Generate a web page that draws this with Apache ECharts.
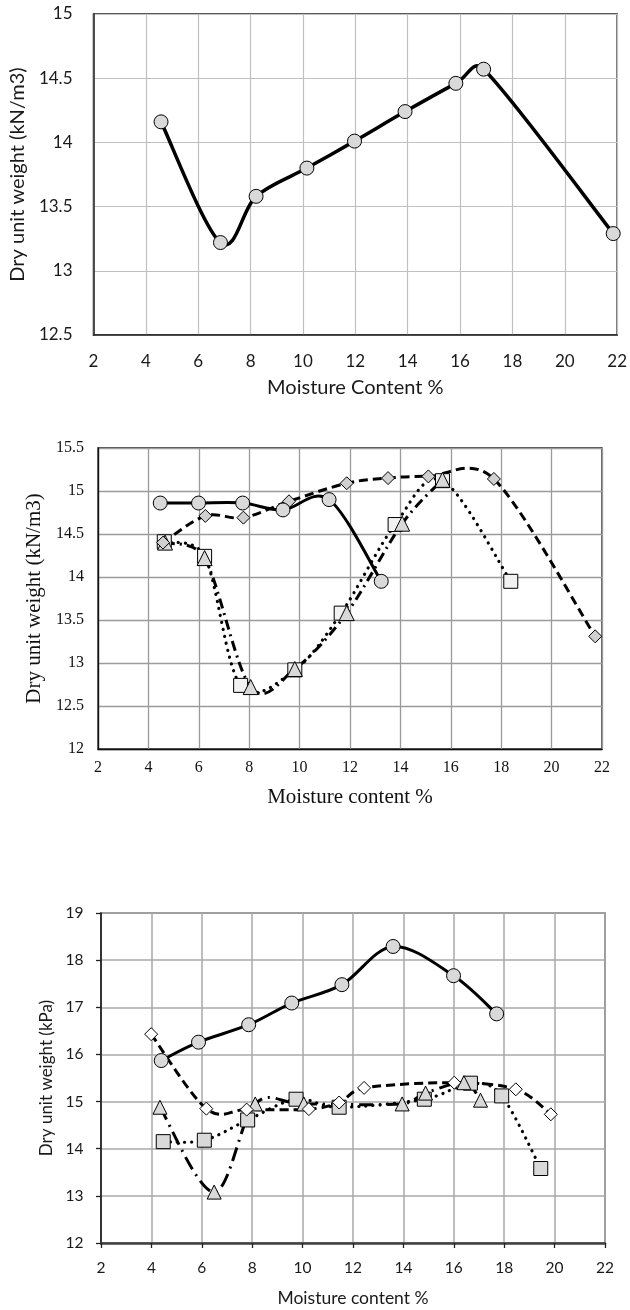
<!DOCTYPE html>
<html>
<head>
<meta charset="utf-8">
<script src="https://cdn.jsdelivr.net/npm/echarts@6/dist/echarts.min.js"></script>
<style>
html,body{margin:0;padding:0;background:#fff;}
#c{width:630px;height:1310px;}
</style>
</head>
<body>
<div id="c"></div>
<script>
// ---------- Data ----------
// Chart 1 (top)
const c1X = [4.58, 6.85, 8.21, 10.15, 11.97, 13.9, 15.84, 16.9, 21.85];
const c1Y = [14.16, 13.22, 13.58, 13.80, 14.01, 14.24, 14.46, 14.57, 13.29];
// Chart 2 (middle)
const c2CircleX = [4.47, 5.99, 7.74, 9.34, 11.17, 13.24];
const c2CircleY = [14.86, 14.86, 14.86, 14.78, 14.90, 13.95];
const c2DiamondX = [4.58, 6.26, 7.77, 9.58, 11.87, 13.51, 15.11, 17.71, 21.73];
const c2DiamondY = [14.40, 14.71, 14.69, 14.88, 15.09, 15.15, 15.17, 15.14, 13.31];
const c2SquareX = [4.63, 6.23, 7.66, 9.81, 11.65, 13.79, 15.67, 18.38];
const c2SquareY = [14.41, 14.24, 12.74, 12.92, 13.58, 14.61, 15.12, 13.95];
const c2TriX = [4.66, 6.23, 8.06, 9.81, 11.87, 14.07, 15.67];
const c2TriY = [14.40, 14.22, 12.72, 12.93, 13.58, 14.62, 15.13];
// Chart 3 (bottom)
const c3CircleX = [4.39, 5.87, 7.86, 9.57, 11.56, 13.59, 15.99, 17.7];
const c3CircleY = [15.87, 16.26, 16.63, 17.09, 17.48, 18.29, 17.67, 16.86];
const c3DiamondX = [3.99, 6.18, 7.78, 10.25, 11.45, 12.44, 16.02, 18.46, 19.85];
const c3DiamondY = [16.43, 14.85, 14.83, 14.84, 14.98, 15.29, 15.40, 15.26, 14.73];
const c3SquareX = [4.47, 6.1, 7.82, 9.74, 11.45, 14.83, 16.66, 17.9, 19.45];
const c3SquareY = [14.15, 14.18, 14.61, 15.05, 14.88, 15.05, 15.39, 15.12, 13.58];
const c3TriX = [4.34, 6.49, 8.12, 10.05, 13.95, 14.88, 16.4, 17.06];
const c3TriY = [14.88, 13.08, 14.95, 14.95, 14.95, 15.18, 15.40, 15.03];

// Tick settings: min, max, interval
const xTicks = [2, 22, 2];
const y1Ticks = [12.5, 15, 0.5];
const y2Ticks = [12, 15.5, 0.5];
const y3Ticks = [12, 19, 1];

// Titles
const xTitle1 = 'Moisture Content %';
const yTitle1 = 'Dry unit weight (kN/m3)';
const xTitle2 = 'Moisture content %';
const yTitle2 = 'Dry unit weight (kN/m3)';
const xTitle3 = 'Moisture content %';
const yTitle3 = 'Dry unit weight (kPa)';

// ---------- Build ----------
const pairs = (xs, ys) => xs.map((x, i) => [x, ys[i]]);
const SANS = 'Lato';
const SERIF = 'Liberation Serif';

// Spreadsheet-style smoothed curve (Catmull-Rom, tension 1/6, control arms
// limited relative to the segment length) positioned via api.coord.
function curve(idx, xs, ys, dash, width, cap) {
  return {
    type: 'custom', coordinateSystem: 'cartesian2d',
    xAxisIndex: idx, yAxisIndex: idx,
    data: pairs(xs, ys), encode: { x: 0, y: 1 },
    z: 2, silent: true, animation: false,
    renderItem: function (params, api) {
      if (params.dataIndex !== 0) return null;
      const p = xs.map((x, i) => api.coord([x, ys[i]]));
      const clampArm = (vx, vy, seg) => {
        const len = Math.hypot(vx, vy), lim = 0.5 * seg;
        if (len > lim && len > 0) { const s = lim / len; return [vx * s, vy * s]; }
        return [vx, vy];
      };
      let d = 'M' + p[0][0] + ',' + p[0][1];
      for (let i = 0; i < p.length - 1; i++) {
        const p0 = p[i - 1] || p[i], p1 = p[i], p2 = p[i + 1], p3 = p[i + 2] || p[i + 1];
        const seg = Math.hypot(p2[0] - p1[0], p2[1] - p1[1]);
        const a = clampArm((p2[0] - p0[0]) / 6, (p2[1] - p0[1]) / 6, seg);
        const b = clampArm((p3[0] - p1[0]) / 6, (p3[1] - p1[1]) / 6, seg);
        d += ' C' + (p1[0] + a[0]) + ',' + (p1[1] + a[1]) + ' ' + (p2[0] - b[0]) + ',' + (p2[1] - b[1]) + ' ' + p2[0] + ',' + p2[1];
      }
      return {
        type: 'path', shape: { pathData: d },
        style: { fill: 'none', stroke: '#000', lineWidth: width, lineDash: dash || null, lineCap: cap || 'butt', lineJoin: 'round' }
      };
    }
  };
}

function marks(idx, xs, ys, symbol, size, fill) {
  return {
    type: 'scatter', xAxisIndex: idx, yAxisIndex: idx,
    data: pairs(xs, ys), symbol: symbol, symbolSize: size, z: 3,
    itemStyle: { color: fill, borderColor: '#000', borderWidth: 1, opacity: 1 },
    emphasis: { disabled: true }, silent: true, animation: false
  };
}

const chart = echarts.init(document.getElementById('c'), null, { renderer: 'canvas' });
const option = {
  animation: false,
  grid: [
    { left: 88, top: 14, width: 530, height: 321, show: true, borderColor: '#262626', borderWidth: 1.5, backgroundColor: 'transparent' },
    { left: 98, top: 448, width: 504, height: 301, show: true, borderColor: '#111', borderWidth: 1.3, backgroundColor: 'transparent' },
    { left: 101, top: 913, width: 504, height: 330, show: true, borderColor: '#595959', borderWidth: 1.5, backgroundColor: 'transparent' }
  ],
  xAxis: [
    { gridIndex: 0, type: 'value', min: xTicks[0], max: xTicks[1], interval: xTicks[2],
      name: xTitle1, nameLocation: 'middle', nameGap: 43,
      nameTextStyle: { fontFamily: SANS, fontSize: 20, color: '#1a1a1a', lineHeight: 20 },
      axisLine: { show: true, lineStyle: { color: '#262626', width: 1.5 } },
      axisTick: { show: false },
      axisLabel: { fontFamily: SANS, fontSize: 17, color: '#1a1a1a', margin: 18, lineHeight: 17 },
      splitLine: { show: true, lineStyle: { color: '#c0c0c0', width: 1.2 } } },
    { gridIndex: 1, type: 'value', min: xTicks[0], max: xTicks[1], interval: xTicks[2],
      name: xTitle2, nameLocation: 'middle', nameGap: 38,
      nameTextStyle: { fontFamily: SERIF, fontSize: 21, color: '#111', lineHeight: 21 },
      axisLine: { show: true, lineStyle: { color: '#111', width: 1.3 } },
      axisTick: { show: false },
      axisLabel: { fontFamily: SERIF, fontSize: 16, color: '#111', margin: 11, lineHeight: 16 },
      splitLine: { show: true, lineStyle: { color: '#9a9a9a', width: 1.3 } } },
    { gridIndex: 2, type: 'value', min: xTicks[0], max: xTicks[1], interval: xTicks[2],
      name: xTitle3, nameLocation: 'middle', nameGap: 47,
      nameTextStyle: { fontFamily: SANS, fontSize: 17.5, color: '#1a1a1a', lineHeight: 17.5 },
      axisLine: { show: true, lineStyle: { color: '#404040', width: 2.5 } },
      axisTick: { show: true, length: 5, lineStyle: { color: '#222', width: 1.3 } },
      axisLabel: { fontFamily: SANS, fontSize: 15.5, color: '#1a1a1a', margin: 17, lineHeight: 15.5 },
      splitLine: { show: true, lineStyle: { color: '#a8a8a8', width: 1.5 } } }
  ],
  yAxis: [
    { gridIndex: 0, type: 'value', min: y1Ticks[0], max: y1Ticks[1], interval: y1Ticks[2],
      name: yTitle1, nameLocation: 'middle', nameGap: 57,
      nameTextStyle: { fontFamily: SANS, fontSize: 20, color: '#1a1a1a', lineHeight: 20 },
      axisLine: { show: true, lineStyle: { color: '#262626', width: 1.5 } },
      axisTick: { show: false },
      axisLabel: { fontFamily: SANS, fontSize: 17, color: '#1a1a1a', margin: 21 },
      splitLine: { show: true, lineStyle: { color: '#c0c0c0', width: 1.2 } } },
    { gridIndex: 1, type: 'value', min: y2Ticks[0], max: y2Ticks[1], interval: y2Ticks[2],
      name: yTitle2, nameLocation: 'middle', nameGap: 49,
      nameTextStyle: { fontFamily: SERIF, fontSize: 21, color: '#111', lineHeight: 21 },
      axisLine: { show: true, lineStyle: { color: '#111', width: 1.3 } },
      axisTick: { show: false },
      axisLabel: { fontFamily: SERIF, fontSize: 16, color: '#111', margin: 14 },
      splitLine: { show: true, lineStyle: { color: '#9a9a9a', width: 1.3 } } },
    { gridIndex: 2, type: 'value', min: y3Ticks[0], max: y3Ticks[1], interval: y3Ticks[2],
      name: yTitle3, nameLocation: 'middle', nameGap: 45,
      nameTextStyle: { fontFamily: SANS, fontSize: 17, color: '#1a1a1a', lineHeight: 17 },
      axisLine: { show: true, lineStyle: { color: '#111', width: 1.5 } },
      axisTick: { show: true, length: 5, lineStyle: { color: '#222', width: 1.3 } },
      axisLabel: { fontFamily: SANS, fontSize: 15.5, color: '#1a1a1a', margin: 17.5 },
      splitLine: { show: true, lineStyle: { color: '#a8a8a8', width: 1.5 } } }
  ],
  series: [
    curve(0, c1X, c1Y, null, 3.5),
    marks(0, c1X, c1Y, 'circle', 14, '#d9d9d9'),

    curve(1, c2SquareX, c2SquareY, [0.1, 7], 3.2, 'round'),
    curve(1, c2TriX, c2TriY, [10, 5, 2, 5], 3),
    curve(1, c2DiamondX, c2DiamondY, [9, 5], 3),
    curve(1, c2CircleX, c2CircleY, null, 3),
    marks(1, c2SquareX, c2SquareY, 'rect', 14, '#f2f2f2'),
    marks(1, c2TriX, c2TriY, 'triangle', 15, '#d9d9d9'),
    marks(1, c2DiamondX, c2DiamondY, 'diamond', 13, '#d0d0d0'),
    marks(1, c2CircleX, c2CircleY, 'circle', 14, '#d9d9d9'),

    curve(2, c3SquareX, c3SquareY, [0.1, 7], 3.2, 'round'),
    curve(2, c3TriX, c3TriY, [14, 6, 2, 6], 3),
    curve(2, c3DiamondX, c3DiamondY, [9, 5], 3),
    curve(2, c3CircleX, c3CircleY, null, 3),
    marks(2, c3SquareX, c3SquareY, 'rect', 14, '#d9d9d9'),
    marks(2, c3TriX, c3TriY, 'triangle', 14, '#d9d9d9'),
    marks(2, c3DiamondX, c3DiamondY, 'diamond', 13, '#ffffff'),
    marks(2, c3CircleX, c3CircleY, 'circle', 14, '#d9d9d9')
  ]
};
chart.setOption(option);
</script>
</body>
</html>
